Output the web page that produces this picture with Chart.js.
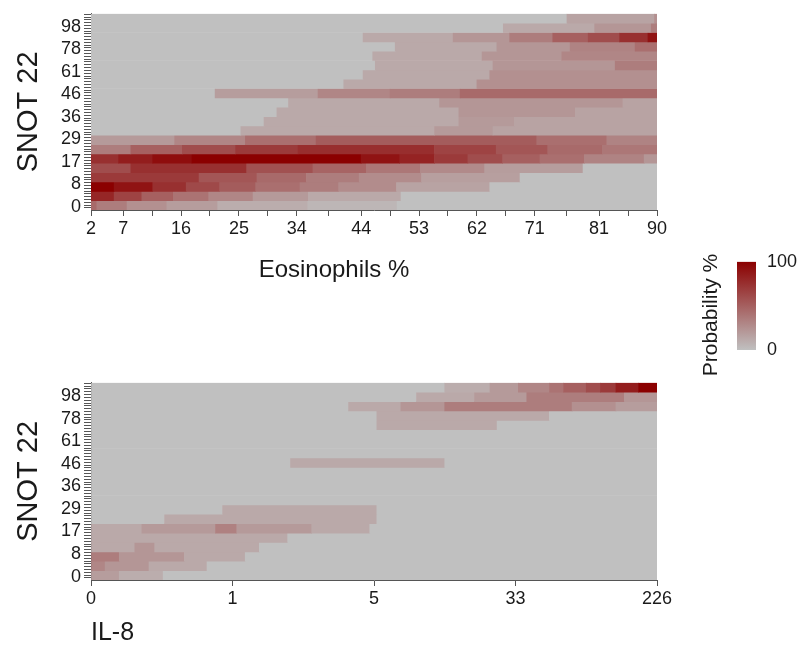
<!DOCTYPE html>
<html>
<head>
<meta charset="utf-8">
<title>SNOT 22 probability maps</title>
<script src="https://cdn.jsdelivr.net/npm/chart.js@4.4.0/dist/chart.umd.min.js"></script>
<style>
    body { margin: 0; background: #fff; }
    canvas { position: absolute; }
</style>
</head>
<body>
<canvas id="eosChart" width="798" height="290" style="left:0px;top:0px"></canvas>
<canvas id="il8Chart" width="798" height="280" style="left:0px;top:369px"></canvas>
<canvas id="scaleChart" width="108" height="150" style="left:690px;top:240px"></canvas>
<script>
// tick labels
const snotTicks = ['0', '8', '17', '29', '36', '46', '61', '78', '98'];
const eosTicks = [2, 7, 16, 25, 34, 44, 53, 62, 71, 81, 90];
const il8Ticks = ['0', '1', '5', '33', '226'];
const scaleTicks = [0, 100];

// Eosinophils %: one row per SNOT band (bottom to top), cut points on the x axis
const eosCuts = [
    [2, 2.9, 7.6, 13.8, 21.7, 35.7, 49.6, 90],
    [2, 5.6, 9.9, 14.8, 20.3, 27.2, 35.8, 50.2, 90],
    [2, 5.6, 11.6, 16.8, 22, 27.6, 34.5, 40.5, 49.5, 64, 90],
    [2, 18.8, 27.8, 35.5, 43.7, 53.4, 68.7, 90],
    [2, 8.2, 26.2, 36.5, 44.8, 53.2, 63.2, 78.5, 90],
    [2, 6.3, 11.6, 17.7, 44, 50, 55.4, 60.6, 66, 71.8, 78.7, 88, 90],
    [2, 8.2, 16.2, 24.5, 34.2, 55.4, 65, 73, 81.5, 90],
    [2, 15, 26, 37, 71.3, 82.2, 90],
    [2, 25.3, 55.4, 64.5, 90],
    [2, 28.9, 59.2, 67.8, 90],
    [2, 30.9, 59.2, 77.3, 90],
    [2, 32.7, 56.2, 84.7, 90],
    [2, 21.3, 37.3, 48.5, 59.4, 90],
    [2, 41.3, 62, 90],
    [2, 44.3, 64, 90],
    [2, 46.2, 64.5, 83.5, 90],
    [2, 45.8, 62.8, 75.2, 90],
    [2, 49.3, 65.1, 76.5, 86.6, 90],
    [2, 44.3, 58.3, 67.1, 73.8, 79.3, 84.2, 88.6, 90],
    [2, 66.1, 80.3, 89.1, 90],
    [2, 76, 89.6, 90]
];
// probability % of each segment
const eosProb = [
    [45, 35, 25, 18, 10, 5, 0],
    [80, 65, 50, 40, 30, 20, 12, 0],
    [100, 90, 75, 62, 52, 42, 35, 27, 15, 0],
    [70, 55, 45, 35, 27, 17, 0],
    [60, 75, 58, 48, 38, 28, 18, 0],
    [75, 85, 93, 100, 90, 82, 70, 60, 50, 42, 32, 22],
    [35, 50, 60, 70, 76, 65, 55, 45, 38],
    [20, 30, 42, 52, 42, 32],
    [0, 12, 20, 15],
    [0, 12, 20, 15],
    [0, 12, 22, 15],
    [0, 12, 22, 15],
    [0, 18, 30, 35, 45],
    [0, 12, 25],
    [0, 12, 25],
    [0, 12, 22, 35],
    [0, 12, 22, 30],
    [0, 12, 22, 32, 42],
    [0, 12, 22, 35, 50, 60, 75, 90],
    [0, 12, 22, 35],
    [0, 15, 25]
];

// IL-8: cut points in tick steps (0 = "0", 1 = "1", 2 = "5", 3 = "33", 4 = "226")
const il8Cuts = [
    [0, 0.2, 0.51, 4],
    [0, 0.1, 0.41, 0.82, 4],
    [0, 0.2, 0.66, 1.09, 4],
    [0, 0.31, 0.45, 1.19, 4],
    [0, 1.39, 4],
    [0, 0.36, 0.88, 1.03, 1.56, 1.97, 4],
    [0, 0.52, 2.02, 4],
    [0, 0.93, 2.02, 4],
    [0, 4],
    [0, 4],
    [0, 4],
    [0, 4],
    [0, 1.41, 2.5, 4],
    [0, 4],
    [0, 4],
    [0, 4],
    [0, 2.02, 2.87, 4],
    [0, 2.02, 3.24, 4],
    [0, 1.82, 2.19, 2.5, 3.4, 3.71, 4],
    [0, 2.3, 2.71, 3.08, 3.77, 4],
    [0, 2.5, 2.82, 3.02, 3.24, 3.34, 3.5, 3.6, 3.71, 3.87, 4]
];
const il8Prob = [
    [18, 10, 0],
    [30, 22, 12, 0],
    [35, 22, 12, 0],
    [12, 22, 12, 0],
    [12, 0],
    [12, 20, 33, 20, 12, 0],
    [0, 12, 0],
    [0, 12, 0],
    [0],
    [0],
    [0],
    [0],
    [0, 12, 0],
    [0],
    [0],
    [0],
    [0, 12, 0],
    [0, 12, 0],
    [0, 12, 22, 35, 25, 18],
    [0, 12, 20, 35, 22],
    [0, 10, 20, 30, 40, 50, 60, 70, 85, 100]
];

const FONT = "'Liberation Sans', Arial, sans-serif";
const INK = '#1a1a1a';
const AXIS = '#555';

// grey (0 %) to dark red (100 %)
function probColor(p) {
    const t = p / 100;
    const r = Math.round(192 - 53 * t);
    const g = Math.round(192 * (1 - t));
    return `rgb(${r},${g},${g})`;
}

function rowLabels(cuts) {
    return cuts.map((row, i) => 'r' + i);
}

function segments(cuts, probs) {
    const data = [];
    const colors = [];
    cuts.forEach((row, i) => {
        for (let k = 0; k < row.length - 1; k++) {
            data.push({ x: [row[k], row[k + 1]], y: 'r' + i });
            colors.push(probColor(probs[i][k]));
        }
    });
    return { data, colors };
}

// draws a free caption where an axis title would sit off-centre
const captionPlugin = {
    id: 'caption',
    afterDraw(chart, args, opts) {
        if (!opts.text) return;
        const ctx = chart.ctx;
        ctx.save();
        ctx.font = `${opts.size}px ${FONT}`;
        ctx.fillStyle = INK;
        ctx.textAlign = 'center';
        ctx.textBaseline = 'middle';
        ctx.translate(opts.x, opts.y);
        ctx.rotate(opts.rotate || 0);
        ctx.fillText(opts.text, 0, 0);
        ctx.restore();
    }
};

function snotAxis() {
    return {
        type: 'linear',
        axis: 'y',
        position: 'left',
        min: -0.09,
        max: 8.52,
        afterBuildTicks: scale => {
            const ticks = [];
            for (let k = 0; k <= 68; k++) ticks.push({ value: k / 8 });
            scale.ticks = ticks;
        },
        afterFit: scale => { scale.width = 91; },
        ticks: {
            autoSkip: false,
            padding: 3,
            color: INK,
            font: { family: FONT, size: 18 },
            callback: v => Number.isInteger(v) ? snotTicks[v] : ''
        },
        grid: { drawOnChartArea: false, tickLength: 7, color: AXIS },
        border: { color: AXIS },
        title: {
            display: true,
            text: 'SNOT 22',
            color: INK,
            font: { family: FONT, size: 29 },
            padding: { top: 12, bottom: 0 }
        }
    };
}

function renderHeatmap(elementId, cuts, probs, xAxis, caption) {
    const seg = segments(cuts, probs);
    const ctx = document.getElementById(elementId).getContext('2d');
    return new Chart(ctx, {
        type: 'bar',
        data: {
            datasets: [{
                data: seg.data,
                backgroundColor: seg.colors,
                borderWidth: 0,
                barPercentage: 1,
                categoryPercentage: 1,
                xAxisID: 'x',
                yAxisID: 'rows'
            }]
        },
        options: {
            indexAxis: 'y',
            responsive: false,
            animation: false,
            devicePixelRatio: 1,
            layout: { padding: { top: 11, right: 141, left: 0, bottom: 0 } },
            scales: {
                x: xAxis,
                rows: {
                    type: 'category',
                    axis: 'y',
                    position: 'left',
                    labels: rowLabels(cuts),
                    reverse: true,
                    offset: true,
                    display: false
                },
                snot: snotAxis()
            },
            plugins: {
                legend: { display: false },
                tooltip: { enabled: false },
                caption: caption
            }
        },
        plugins: [captionPlugin]
    });
}

renderHeatmap('eosChart', eosCuts, eosProb, {
    type: 'linear',
    min: 2,
    max: 90,
    afterBuildTicks: scale => {
        const ticks = [];
        eosTicks.forEach((v, i) => {
            if (i > 1) ticks.push({ value: (eosTicks[i - 1] + v) / 2 });
            ticks.push({ value: v });
        });
        scale.ticks = ticks;
    },
    afterFit: scale => { scale.height = 80; },
    ticks: {
        autoSkip: false,
        maxRotation: 0,
        padding: 2,
        color: INK,
        font: { family: FONT, size: 18 },
        callback: v => eosTicks.includes(v) ? String(v) : ''
    },
    grid: { drawOnChartArea: false, tickLength: 6, color: AXIS },
    border: { color: AXIS }
}, { text: 'Eosinophils %', x: 334, y: 270, size: 24 });

renderHeatmap('il8Chart', il8Cuts, il8Prob, {
    type: 'linear',
    min: 0,
    max: 4,
    afterBuildTicks: scale => {
        scale.ticks = il8Ticks.map((t, i) => ({ value: i }));
    },
    afterFit: scale => { scale.height = 69; },
    ticks: {
        autoSkip: false,
        maxRotation: 0,
        padding: 2,
        color: INK,
        font: { family: FONT, size: 18 },
        callback: v => il8Ticks[v]
    },
    grid: { drawOnChartArea: false, tickLength: 6, color: AXIS },
    border: { color: AXIS },
    title: {
        display: true,
        text: 'IL-8',
        align: 'start',
        color: INK,
        font: { family: FONT, size: 25 },
        padding: { top: 0, bottom: 1 }
    }
}, {});

// colour scale
new Chart(document.getElementById('scaleChart').getContext('2d'), {
    type: 'bar',
    data: {
        labels: ['Probability %'],
        datasets: [{
            data: [[scaleTicks[0], scaleTicks[1]]],
            borderWidth: 0,
            barPercentage: 1,
            categoryPercentage: 1,
            backgroundColor: context => {
                const chart = context.chart;
                const area = chart.chartArea;
                if (!area) return probColor(50);
                const y = chart.scales.y;
                const g = chart.ctx.createLinearGradient(0, y.getPixelForValue(scaleTicks[0]), 0, y.getPixelForValue(scaleTicks[1]));
                g.addColorStop(0, probColor(scaleTicks[0]));
                g.addColorStop(1, probColor(scaleTicks[1]));
                return g;
            }
        }]
    },
    options: {
        responsive: false,
        animation: false,
        devicePixelRatio: 1,
        layout: { padding: { top: 13, bottom: 40, left: 47, right: 0 } },
        scales: {
            x: { display: false },
            y: {
                type: 'linear',
                position: 'right',
                min: 0,
                max: 100,
                afterBuildTicks: scale => {
                    scale.ticks = scaleTicks.map(v => ({ value: v }));
                },
                afterFit: scale => { scale.width = 42; },
                ticks: {
                    padding: 11,
                    color: INK,
                    font: { family: FONT, size: 18 }
                },
                grid: { display: false, drawTicks: false },
                border: { display: false }
            }
        },
        plugins: {
            legend: { display: false },
            tooltip: { enabled: false },
            caption: { text: 'Probability %', x: 21, y: 75, size: 21, rotate: -Math.PI / 2 }
        }
    },
    plugins: [captionPlugin]
});
</script>
</body>
</html>
